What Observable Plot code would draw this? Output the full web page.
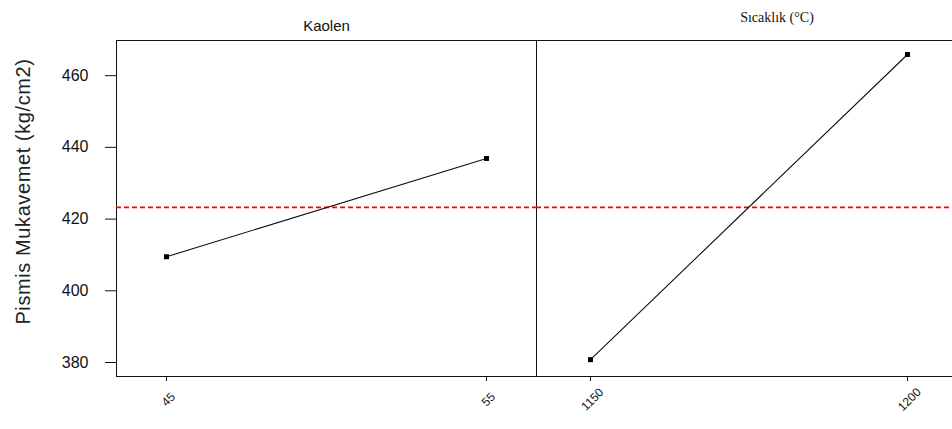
<!DOCTYPE html>
<html>
<head>
<meta charset="utf-8">
<script src="https://cdn.jsdelivr.net/npm/d3@7"></script>
<script src="https://cdn.jsdelivr.net/npm/@observablehq/plot@0.6"></script>
<style>
  html, body { margin: 0; padding: 0; background: #fff; }
  #chart { position: relative; width: 952px; height: 429px; overflow: hidden; background: #fff; }
  #chart > svg { position: absolute; top: 0; }
  .ylabel text { letter-spacing: 0.6px; }
</style>
</head>
<body>
<div id="chart"></div>
<script>
// Main effects plot: mean compressive strength for each factor level
const factors = ["Kaolen", "Sıcaklık (°C)"];
const kaolenLevels = ["45", "55"];
const kaolenMeans = [409.5, 436.9];
const sicaklikLevels = ["1150", "1200"];
const sicaklikMeans = [380.8, 465.9];
const yTicks = [380, 400, 420, 440, 460];
const yLabel = "Pismis Mukavemet (kg/cm2)";

const kaolen = kaolenLevels.map((level, i) => ({level, mean: kaolenMeans[i]}));
const sicaklik = sicaklikLevels.map((level, i) => ({level, mean: sicaklikMeans[i]}));
const grandMean = d3.mean([...kaolenMeans, ...sicaklikMeans]);

const yDomain = [376.1, 469.8];
const font = "'Liberation Sans', Arial, sans-serif";

function panel({data, levels, title, titleDx, titleDy, titleFont, titleSize, width, marginLeft, padding, withYAxis}) {
  const marks = [
    Plot.frame({stroke: "#111", strokeWidth: 1}),
    Plot.ruleY([grandMean], {stroke: "#ff0000", strokeWidth: 1.6, strokeDasharray: "5,3"}),
    Plot.line(data, {x: "level", y: "mean", stroke: "#111", strokeWidth: 1.1}),
    Plot.dot(data, {x: "level", y: "mean", symbol: "square", r: 2.8, fill: "#000", stroke: "none"}),
    Plot.axisX({tickSize: 5, tickFormat: () => "", label: null, stroke: "#111"}),
    Plot.text(levels, {x: d => d, text: d => d, frameAnchor: "bottom", dy: 23, dx: 2, rotate: -45,
      textAnchor: "middle", lineAnchor: "middle", fontSize: 12, fontFamily: font, fill: "#111"}),
    Plot.text([title], {frameAnchor: "top", dx: titleDx, dy: titleDy, lineAnchor: "middle",
      textAnchor: "middle", fontSize: titleSize, fontFamily: titleFont, fill: "#111"})
  ];
  if (withYAxis) {
    marks.push(
      Plot.axisY({ticks: yTicks, tickSize: 11, tickPadding: 17, fontSize: 16, label: null, fill: "#111", stroke: "#111"}),
      Plot.text([yLabel], {frameAnchor: "left", dx: -93, dy: -17, rotate: -90, textAnchor: "middle",
        lineAnchor: "middle", fontSize: 20, fontFamily: font, fill: "#222", className: "ylabel"})
    );
  }
  return Plot.plot({
    width,
    height: 429,
    marginTop: 40,
    marginBottom: 53,
    marginLeft,
    marginRight: 0,
    style: {background: "transparent", fontFamily: font, overflow: "visible"},
    x: {type: "point", domain: levels, padding, axis: null},
    y: {domain: yDomain, axis: null},
    marks
  });
}

const left = panel({
  data: kaolen, levels: kaolenLevels, title: factors[0],
  titleDx: 0, titleDy: -14, titleFont: font, titleSize: 15,
  width: 536, marginLeft: 116, padding: 0.156, withYAxis: true
});
const right = panel({
  data: sicaklik, levels: sicaklikLevels, title: factors[1],
  titleDx: 28, titleDy: -23, titleFont: "'Liberation Serif', serif", titleSize: 14,
  width: 426, marginLeft: 1, padding: 0.17, withYAxis: false
});
left.style.left = "0px";
right.style.left = "535px";
const chart = document.getElementById("chart");
chart.append(left, right);
</script>
</body>
</html>
